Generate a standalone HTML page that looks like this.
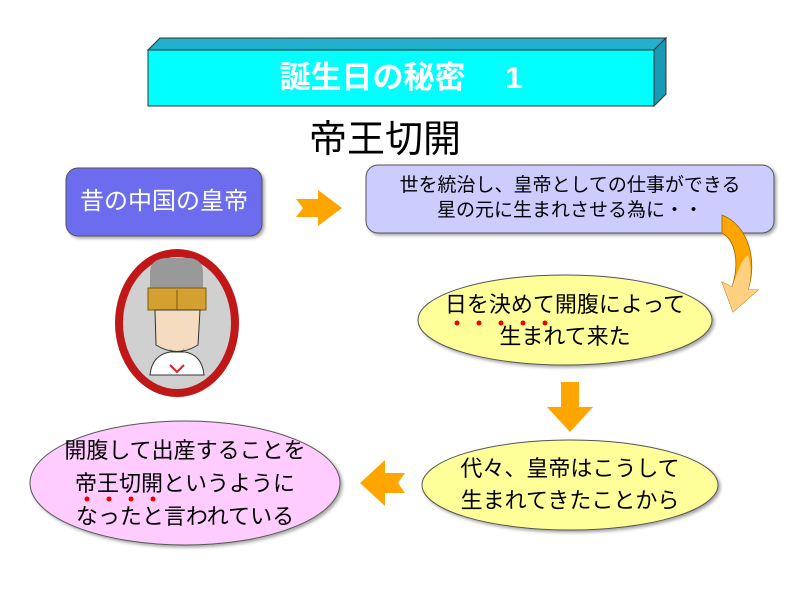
<!DOCTYPE html>
<html><head><meta charset="utf-8"><style>
body{margin:0;width:800px;height:600px;background:#fff;overflow:hidden;position:relative;font-family:"Liberation Sans","Noto Sans CJK JP",sans-serif}
.a{position:absolute}
.t{position:absolute;text-align:center;color:#000;white-space:nowrap}
</style></head><body>
<svg class="a" style="left:0;top:0" width="800" height="600">
<defs><filter id="s"><feDropShadow dx="2" dy="2" stdDeviation="1.5" flood-opacity="0.35"/></filter></defs>
<polygon points="148,50 160,38 666,38 654,50" fill="#22b0cc" stroke="#333" stroke-width="1"/>
<polygon points="654,50 666,38 666,94 654,106" fill="#1a9ab5" stroke="#333" stroke-width="1"/>
<rect x="148" y="50" width="506" height="56" fill="#00ffff" stroke="#333" stroke-width="1"/>
<rect x="66" y="168" width="196" height="68" rx="12" fill="#6c6cee" stroke="#555" filter="url(#s)"/>
<rect x="366" y="165" width="408" height="68" rx="12" fill="#ccccff" stroke="#555" filter="url(#s)"/>
<polygon points="296,199 318,199 318,190 342,208 318,226 318,217 296,217 303,208" fill="#ffa500"/>
<path d="M722,215 C748,225 758,260 748,290 L758,290 L733,312 L722,282 L732,287 C740,262 735,240 722,233 Z" fill="#ffa500" stroke="#996600" stroke-width="0.8"/>
<path d="M748,290 L758,290 L733,312 L722,282 L732,287 C738,272 740,262 748,255 C752,268 751,280 748,290Z" fill="#ffd080"/>
<ellipse cx="565" cy="320" rx="147" ry="45" fill="#ffff99" stroke="#555" filter="url(#s)"/>
<ellipse cx="570" cy="485" rx="148" ry="45" fill="#ffff99" stroke="#555" filter="url(#s)"/>
<ellipse cx="185" cy="483" rx="155" ry="62" fill="#ffccff" stroke="#555" filter="url(#s)"/>
<polygon points="561,382 579,382 579,407 593,407 570,432 547,407 561,407" fill="#ffa500"/>
<polygon points="405,473 385,473 385,460 360,483 385,506 385,493 405,493 398,483" fill="#ffa500"/>
<ellipse cx="177" cy="323" rx="58" ry="70" fill="#d0d0d0" stroke="#c01818" stroke-width="8"/>
<path d="M150,272 Q150,260 165,258 L190,258 Q203,260 203,272 L203,295 L150,295Z" fill="#999"/>
<rect x="148" y="288" width="58" height="22" fill="#d4a030" stroke="#7a5a10"/>
<line x1="177" y1="290" x2="177" y2="310" stroke="#7a5a10"/>
<path d="M155,310 L200,310 L198,345 Q177,358 156,345Z" fill="#f5dcc0" stroke="#333"/>
<path d="M168,345 Q177,362 186,345 L182,352 Q177,356 172,352Z" fill="#111"/>
<path d="M150,375 Q152,355 170,352 L185,352 Q202,355 204,375Z" fill="#fff" stroke="#333"/>
<path d="M170,365 L177,372 L184,365" stroke="#e02020" stroke-width="2" fill="none"/>
</svg>
<div class="t" style="left:148px;top:54px;width:506px;font-size:31px;font-weight:bold;color:#fff;line-height:48px">誕生日の秘密　&nbsp;1</div>
<div class="t" style="left:270px;top:116px;width:230px;font-size:38px;line-height:48px">帝王切開</div>
<div class="t" style="left:66px;top:168px;width:196px;font-size:24px;color:#fff;line-height:68px">昔の中国の皇帝</div>
<div class="t" style="left:366px;top:173px;width:408px;font-size:19px;line-height:25px">世を統治し、皇帝としての仕事ができる<br>星の元に生まれさせる為に・・</div>
<div class="t" style="left:418px;top:289px;width:294px;font-size:22px;line-height:32px">日を決めて開腹によって<br>生まれて来た</div>
<div class="t" style="left:422px;top:453px;width:296px;font-size:22px;line-height:32px">代々、皇帝はこうして<br>生まれてきたことから</div>
<div class="t" style="left:30px;top:434px;width:310px;font-size:22px;line-height:33px">開腹して出産することを<br>帝王切開というように<br>なったと言われている</div>
<svg class="a" style="left:0;top:0" width="800" height="600">
<g fill="#ee0000"><circle cx="457" cy="323" r="2.5"/><circle cx="479" cy="323" r="2.5"/><circle cx="501" cy="323" r="2.5"/><circle cx="523" cy="323" r="2.5"/><circle cx="545" cy="323" r="2.5"/>
<circle cx="87" cy="499" r="2.5"/><circle cx="109" cy="499" r="2.5"/><circle cx="131" cy="499" r="2.5"/><circle cx="153" cy="499" r="2.5"/></g>
</svg>
</body></html>
